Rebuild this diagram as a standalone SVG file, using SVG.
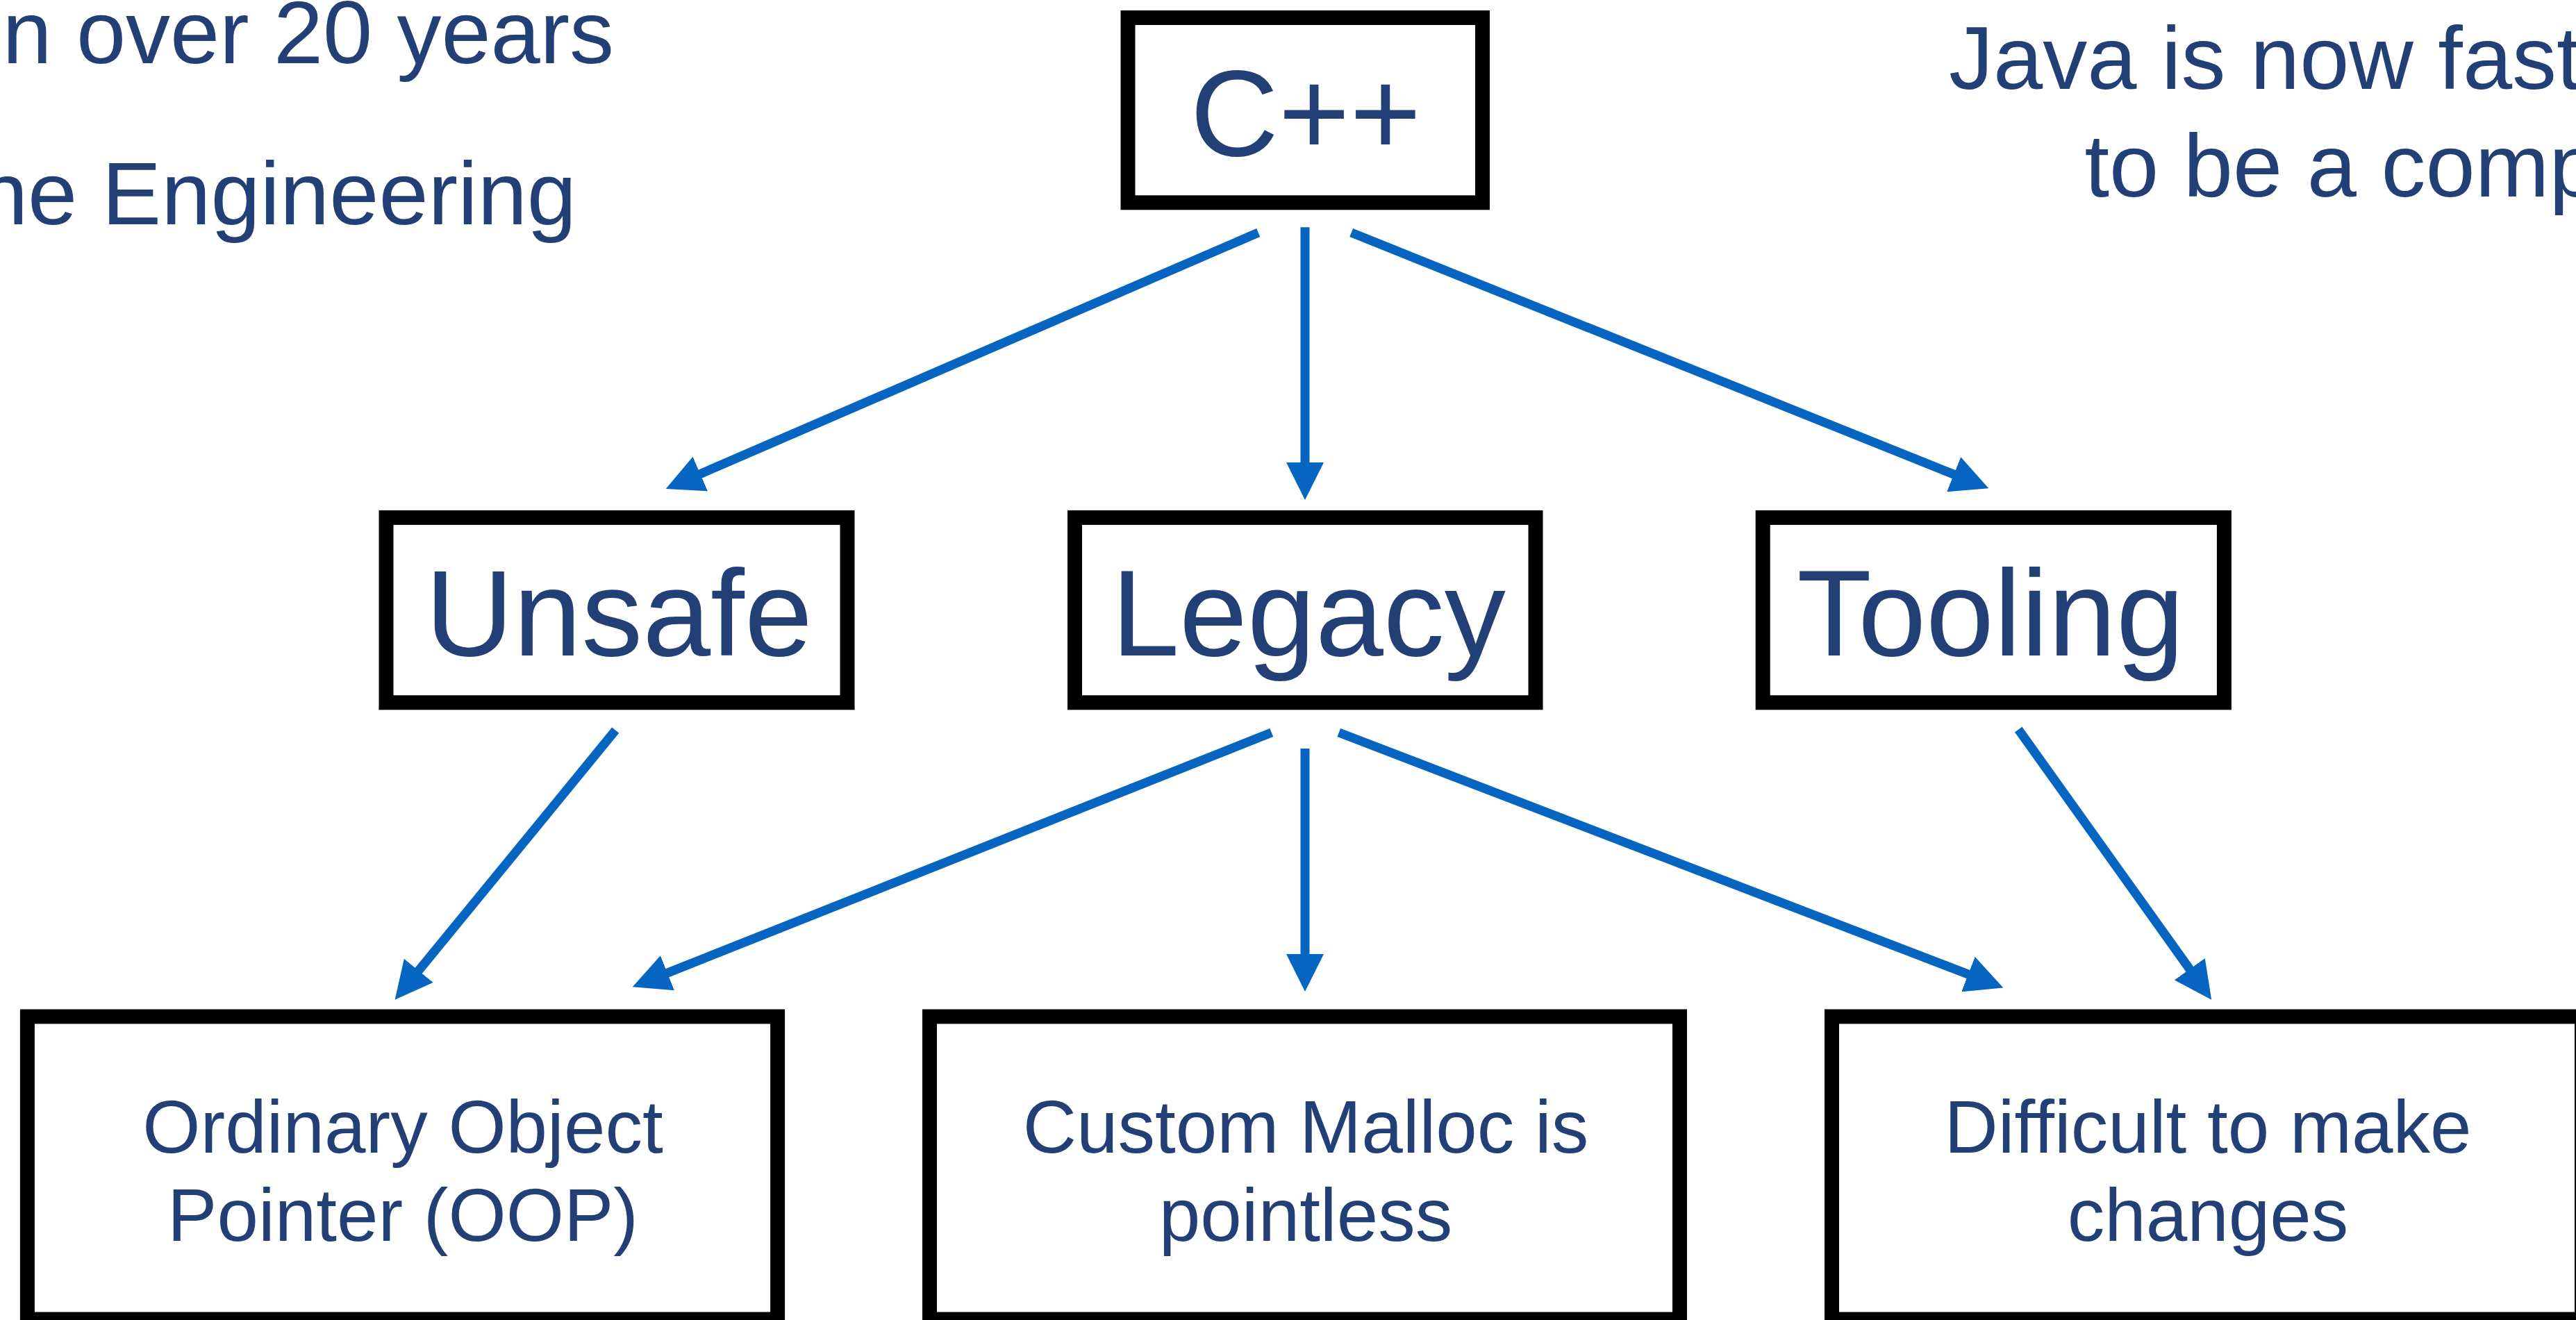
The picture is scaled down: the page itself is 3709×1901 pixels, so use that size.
<svg xmlns="http://www.w3.org/2000/svg" width="3709" height="1901" viewBox="0 0 3709 1901">
  <defs>
    <marker id="arrowhead" viewBox="0 0 54 54" refX="14" refY="27" markerWidth="54" markerHeight="54" markerUnits="userSpaceOnUse" orient="auto">
      <path d="M0,0 L54,27 L0,54 Z" fill="#0565C1"/>
    </marker>
    <style>
      .box { fill: #FFFFFF; stroke: #000000; stroke-width: 21; }
      .label { font-family: "Liberation Sans", Arial, Helvetica, sans-serif; fill: #223F76; }
      .big { font-size: 176px; text-anchor: middle; }
      .small { font-size: 107px; text-anchor: middle; }
      .note { font-size: 128px; }
      .edge { stroke: #0565C1; stroke-width: 13; fill: none; stroke-linecap: butt; marker-end: url(#arrowhead); }
    </style>
  </defs>

  <rect x="0" y="0" width="3709" height="1901" fill="#FFFFFF"/>

  <!-- side notes, running off the edges of the slide -->
  <g id="notes-left" class="label">
    <text class="note" x="3.5" y="90.7" font-size="130" textLength="880.5" lengthAdjust="spacing">n over 20 years</text>
    <text class="note" x="830" y="322.7" text-anchor="end">ne Engineering</text>
  </g>
  <g id="notes-right" class="label">
    <text class="note" x="2806" y="128">Java is now fast</text>
    <text class="note" x="3001.5" y="282.7">to be a comp</text>
  </g>

  <!-- connectors -->
  <g id="connectors">
    <line class="edge" x1="1811.7" y1="335" x2="995.4" y2="688.1"/>
    <line class="edge" x1="1879" y1="327.3" x2="1879" y2="680"/>
    <line class="edge" x1="1945.7" y1="335" x2="2826.2" y2="688.4"/>
    <line class="edge" x1="886.2" y1="1051.7" x2="593.9" y2="1408.7"/>
    <line class="edge" x1="1830.8" y1="1055" x2="947.9" y2="1406.4"/>
    <line class="edge" x1="1879" y1="1078" x2="1879" y2="1388"/>
    <line class="edge" x1="1927.8" y1="1055" x2="2847" y2="1408.1"/>
    <line class="edge" x1="2906.2" y1="1050.6" x2="3160.9" y2="1407.1"/>
  </g>

  <!-- root -->
  <g id="node-cpp">
    <rect class="box" x="1624" y="25.5" width="510.5" height="266.3"/>
    <text class="label big" x="1880" y="224">C++</text>
  </g>

  <!-- middle row -->
  <g id="node-unsafe">
    <rect class="box" x="556" y="745.4" width="664" height="266.4"/>
    <text class="label big" x="891" y="944.3">Unsafe</text>
  </g>
  <g id="node-legacy">
    <rect class="box" x="1547.5" y="745.4" width="663.5" height="266.4"/>
    <text class="label big" x="1884" y="944.3">Legacy</text>
  </g>
  <g id="node-tooling">
    <rect class="box" x="2538.2" y="745.4" width="664.2" height="266.4"/>
    <text class="label big" x="2866" y="944.3">Tooling</text>
  </g>

  <!-- bottom row -->
  <g id="node-oop">
    <rect class="box" x="39.4" y="1464" width="1080.2" height="436"/>
    <text class="label small" x="580" y="1659.7">Ordinary Object</text>
    <text class="label small" x="580" y="1787.3">Pointer (OOP)</text>
  </g>
  <g id="node-malloc">
    <rect class="box" x="1338.5" y="1464" width="1080" height="436"/>
    <text class="label small" x="1880" y="1659.7">Custom Malloc is</text>
    <text class="label small" x="1880" y="1787.3">pointless</text>
  </g>
  <g id="node-changes">
    <rect class="box" x="2637.5" y="1464" width="1080" height="436"/>
    <text class="label small" x="3179" y="1659.7">Difficult to make</text>
    <text class="label small" x="3179" y="1787.3">changes</text>
  </g>
</svg>
